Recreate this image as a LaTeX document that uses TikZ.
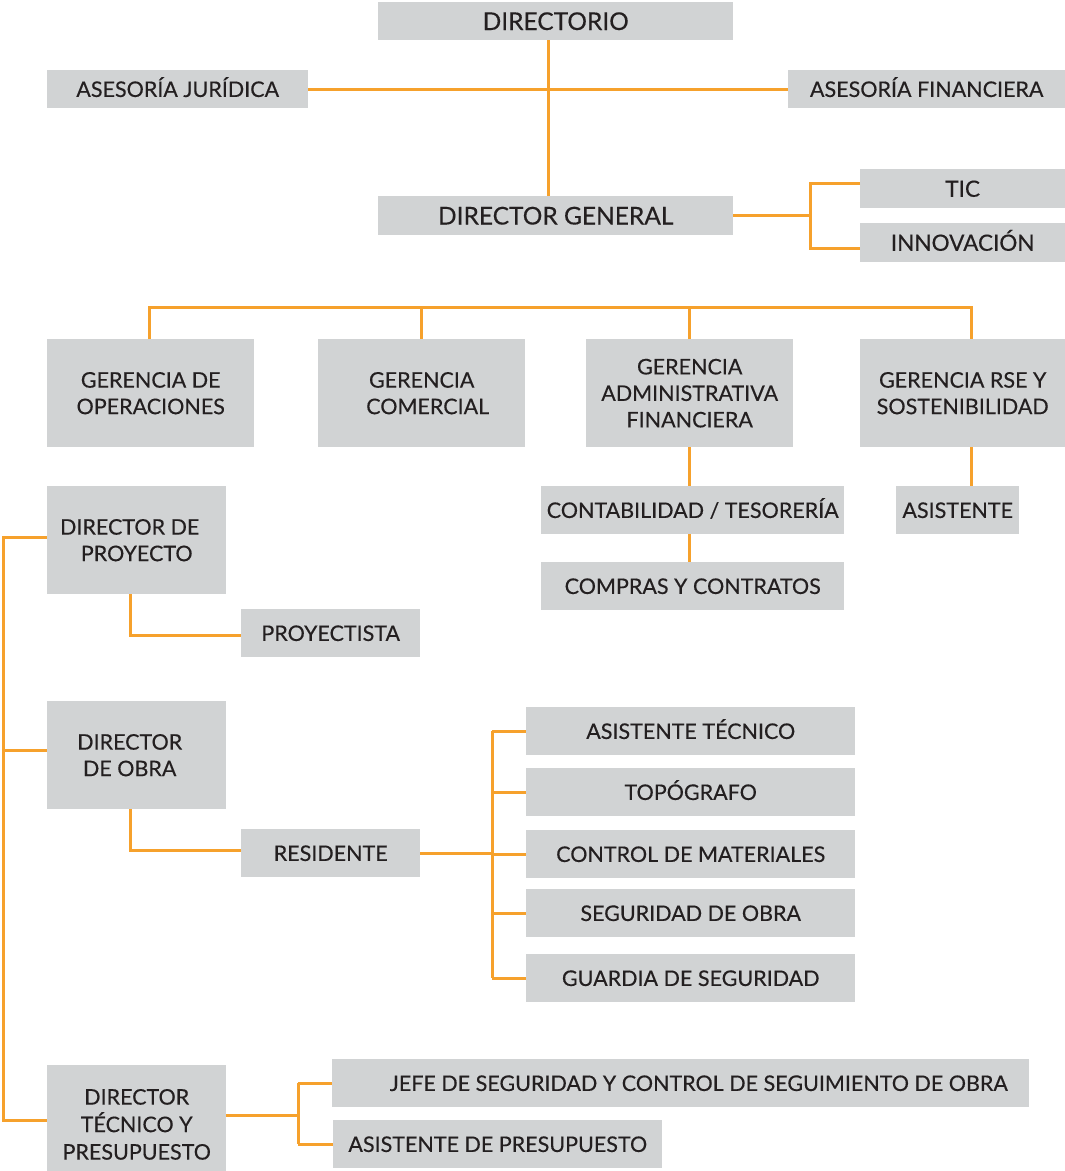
\documentclass[tikz,border=0pt]{standalone}
\usepackage{fontspec}
\setmainfont{Lato}[FakeBold=0.3]
\definecolor{boxgray}{HTML}{D1D3D4}
\definecolor{org}{HTML}{F6A12C}
\definecolor{txt}{HTML}{231F20}
\begin{document}
\begin{tikzpicture}[x=1pt,y=-1pt,
  bx/.style={fill=boxgray, inner sep=0pt, text=txt, font=\fontsize{21.5}{26.5}\selectfont, align=center, anchor=north west},
  sl/.style={bx, text height=15.5pt, text depth=0pt},
  big/.style={sl, font=\fontsize{24.5}{26}\selectfont, text height=17.6pt},
  mid/.style={sl, font=\fontsize{22.5}{26}\selectfont, text height=16.2pt},
  con/.style={draw=org, line width=3pt}]
\useasboundingbox (0,0) rectangle (1065,1171);
% top
\node[big, minimum width=355, minimum height=38] (dir) at (378,2) {DIRECTORIO};
\node[sl, minimum width=261, minimum height=38] (aj) at (47,70) {ASESORÍA JURÍDICA};
\node[sl, minimum width=277, minimum height=38] (af) at (788,70) {ASESORÍA FINANCIERA};
\node[big, minimum width=355, minimum height=39] (dg) at (378,196) {DIRECTOR GENERAL};
\node[mid, minimum width=205, minimum height=39] (tic) at (860,169) {TIC};
\node[mid, minimum width=205, minimum height=39] (inn) at (860,223) {INNOVACIÓN};
% gerencias
\node[bx, minimum width=207, minimum height=108] (gop) at (47,339) {GERENCIA DE\\OPERACIONES};
\node[bx, minimum width=207, minimum height=108] (gcom) at (318,339) {GERENCIA\\\hspace*{12pt}COMERCIAL};
\node[bx, minimum width=207, minimum height=108] (gaf) at (586,339) {GERENCIA\\ADMINISTRATIVA\\FINANCIERA};
\node[bx, minimum width=205, minimum height=108] (grse) at (860,339) {GERENCIA RSE Y\\SOSTENIBILIDAD};
\node[sl, minimum width=303, minimum height=48] (cont) at (541,486) {CONTABILIDAD / TESORERÍA};
\node[sl, minimum width=303, minimum height=48] (comp) at (541,562) {COMPRAS Y CONTRATOS};
\node[sl, minimum width=123, minimum height=48] (asis) at (896,486) {ASISTENTE};
% left column
\node[bx, minimum width=179, minimum height=108] (dp) at (47,486) {DIRECTOR DE\hspace*{14pt}\\PROYECTO};
\node[sl, minimum width=179, minimum height=48] (proy) at (241,609) {PROYECTISTA};
\node[bx, minimum width=179, minimum height=108] (do) at (47,701) {DIRECTOR\hspace*{14pt}\\DE OBRA\hspace*{14pt}};
\node[sl, minimum width=179, minimum height=48] (res) at (241,829) {RESIDENTE};
\node[sl, minimum width=329, minimum height=48] (at) at (526,707) {ASISTENTE TÉCNICO};
\node[sl, minimum width=329, minimum height=48] (top) at (526,768) {TOPÓGRAFO};
\node[sl, minimum width=329, minimum height=48] (cm) at (526,830) {CONTROL DE MATERIALES};
\node[sl, minimum width=329, minimum height=48] (so) at (526,889) {SEGURIDAD DE OBRA};
\node[sl, minimum width=329, minimum height=48] (gs) at (526,954) {GUARDIA DE SEGURIDAD};
\node[bx, minimum width=179, minimum height=106, font=\fontsize{21.5}{27.5}\selectfont] (dtp) at (47,1065) {\rule{0pt}{28pt}DIRECTOR\\TÉCNICO Y\\PRESUPUESTO};
\node[sl, minimum width=697, minimum height=48] (jefe) at (332,1059) {\hspace*{36pt}JEFE DE SEGURIDAD Y CONTROL DE SEGUIMIENTO DE OBRA};
\node[sl, minimum width=329, minimum height=48] (ap) at (333,1120) {ASISTENTE DE PRESUPUESTO};
% junction coordinates
\coordinate (t1) at (810,183);
\coordinate (t2) at (810,248);
\coordinate (bar) at (0,307);
\coordinate (sp1) at (3,537);
\coordinate (sp2) at (3,750);
\coordinate (sp3) at (3,1120);
\coordinate (k1) at (130,635);
\coordinate (k2) at (130,850);
\coordinate (r1) at (492,853);
\coordinate (q1) at (298,1115);
% connectors
\draw[con] ([xshift=-7.5pt]dir.south) -- ([xshift=-7.5pt]dg.north);
\draw[con] (aj.east) -- (af.west);
\draw[con] (dg.east) -- (dg.east -| t1);
\draw[con] (tic.west |- t1) -- (t1) -- (t2) -- (inn.west |- t2);
\draw[con] ([xshift=-1.5pt]gop.north) -- ([xshift=-1.5pt]gop.north |- bar) -- ([xshift=8.5pt]grse.north |- bar) -- ([xshift=8.5pt]grse.north);
\draw[con] (gcom.north) -- (gcom.north |- bar);
\draw[con] (gaf.north) -- (gaf.north |- bar);
\draw[con] (gaf.south) -- (gaf.south |- cont.north);
\draw[con] (cont.south -| gaf.south) -- (comp.north -| gaf.south);
\draw[con] ([xshift=8.5pt]grse.south) -- ([xshift=8.5pt]grse.south |- asis.north);
\draw[con] (dp.west |- sp1) -- (sp1) -- (sp3) -- (dtp.west |- sp3);
\draw[con] (sp2) -- (do.west |- sp2);
\draw[con] (dp.south -| k1) -- (k1) -- (proy.west |- k1);
\draw[con] (do.south -| k2) -- (k2) -- (res.west |- k2);
\draw[con] (res.east) -- (res.east -| r1);
\draw[con] (at.west -| r1) -- (gs.west -| r1);
\foreach \n in {at,top,cm,so,gs} \draw[con] (\n.west -| r1) -- (\n.west);
\draw[con] (dtp.east |- q1) -- (q1);
\draw[con] (jefe.west -| q1) -- (ap.west -| q1);
\draw[con] (jefe.west -| q1) -- (jefe.west);
\draw[con] (ap.west -| q1) -- (ap.west);
\end{tikzpicture}
\end{document}
